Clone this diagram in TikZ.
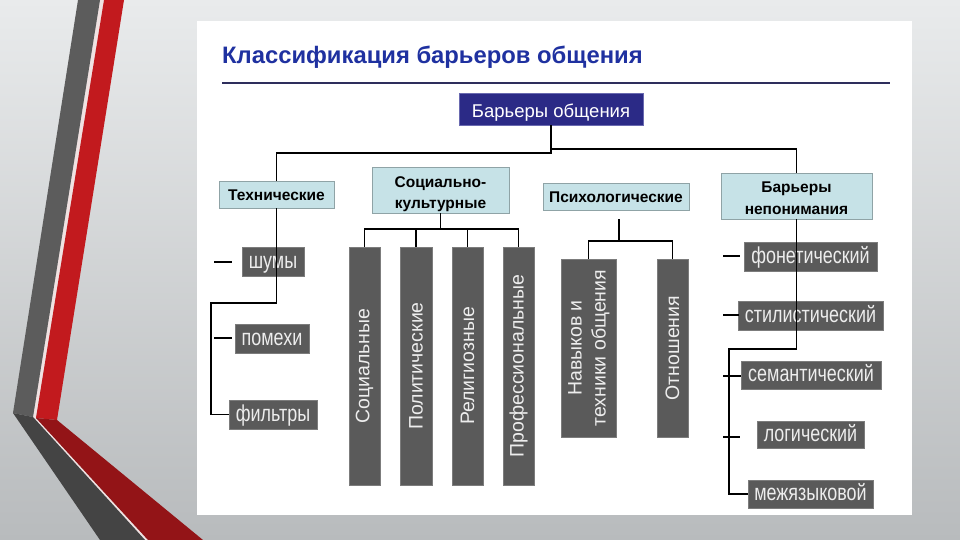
\documentclass[tikz,border=0pt]{standalone}
\usepackage{fontspec}
\setmainfont{Liberation Sans}
\newfontfamily\condfont[FakeStretch=0.78]{Liberation Sans}
\definecolor{bgtop}{HTML}{E9EBEC}
\definecolor{bgbot}{HTML}{B8BBBD}
\definecolor{grayup}{HTML}{5C5C5C}
\definecolor{graylow}{HTML}{444444}
\definecolor{redup}{HTML}{C21A1E}
\definecolor{redlow}{HTML}{931417}
\definecolor{gapcol}{HTML}{F0E2E2}
\definecolor{titlecol}{HTML}{1F31A0}
\definecolor{rulecol}{HTML}{2E2E5C}
\definecolor{rootfill}{HTML}{2B2A86}
\definecolor{rootline}{HTML}{6A6AB0}
\definecolor{catfill}{HTML}{C6E2E7}
\definecolor{catline}{HTML}{8FA3A6}
\definecolor{grayfill}{HTML}{5A5A5A}
\definecolor{grayline}{HTML}{7C7C7C}
\definecolor{graytext}{HTML}{EDEDED}
\begin{document}
\begin{tikzpicture}[x=1pt,y=-1pt]
\tikzset{
  conn/.style={draw=black, line width=1.1pt},
  rootbox/.style={draw=rootline, fill=rootfill, line width=0.8pt, inner sep=0pt, text=white, text height=18pt, text depth=0pt, font=\fontsize{18.5}{21}\selectfont},
  catbox/.style={draw=catline, fill=catfill, line width=0.8pt, inner sep=0pt, text=black, font=\fontsize{15.5}{21}\selectfont\bfseries},
  catone/.style={catbox, text height=11.5pt, text depth=0pt},
  cattwo/.style={catbox, text height=36pt, text depth=0pt},
  graybox/.style={draw=grayline, fill=grayfill, line width=0.8pt, inner sep=0pt, text=graytext, text height=13pt, text depth=0pt, font=\condfont\fontsize{23}{26}\selectfont},
  barbox/.style={draw=grayline, fill=grayfill, line width=0.8pt, inner sep=0pt, text=graytext, font=\fontsize{19.5}{25}\selectfont},
}
\useasboundingbox (0,0) rectangle (960,540);
% background
\shade[top color=bgtop, bottom color=bgbot] (0,0) rectangle (960,540);
% decorative stripes
\fill[gapcol] (100,0) -- (104,0) -- (36,418) -- (148,540) -- (145,540) -- (33,417) -- cycle;
\fill[grayup] (78,0) -- (100,0) -- (33,417) -- (13,413) -- cycle;
\fill[graylow] (13,413) -- (33,417) -- (145,540) -- (100,540) -- cycle;
\fill[redup] (104,0) -- (124,0) -- (57,420) -- (36,418) -- cycle;
\fill[redlow] (36,418) -- (57,420) -- (203,540) -- (148,540) -- cycle;
% white panel
\fill[white] (197,21) rectangle (912,515);
% title
\node[anchor=base west, inner sep=0pt, text=titlecol, font=\fontsize{23.8}{27}\selectfont\bfseries] (title) at (222,64) {Классификация барьеров общения};
\coordinate (ruleL) at (222,83);
\coordinate (ruleR) at (890,83);
\draw[draw=rulecol, line width=1.2pt] (ruleL) -- (ruleR);

% root
\node[rootbox, minimum width=184pt, minimum height=32pt] (root) at (551,109) {Барьеры общения};
% categories
\node[catone, minimum width=115pt, minimum height=27pt] (tech) at (276.5,194.5) {Технические};
\node[cattwo, minimum width=137pt, minimum height=46pt] (soc) at (440.5,190) {\begin{tabular}[b]{@{}c@{}}Социально-\\культурные\end{tabular}};
\node[catone, minimum width=146pt, minimum height=27pt] (psy) at (616,196.5) {Психологические};
\node[cattwo, minimum width=151pt, minimum height=46pt] (bn) at (796.5,196) {\begin{tabular}[b]{@{}c@{}}Барьеры\\непонимания\end{tabular}};

% technical items
\node[graybox, minimum width=62pt, minimum height=29pt] (shum) at (273,261.5) {шумы};
\node[graybox, minimum width=74pt, minimum height=29pt] (pom) at (272,338.5) {помехи};
\node[graybox, minimum width=88pt, minimum height=29pt] (filt) at (273,414.5) {фильтры};

% socio-cultural bars
\node[barbox, minimum width=31pt, minimum height=238pt] (b1) at (364.5,366) {\rotatebox{90}{Социальные}};
\node[barbox, minimum width=32pt, minimum height=238pt] (b2) at (416,366) {\rotatebox{90}{Политические}};
\node[barbox, minimum width=31pt, minimum height=238pt] (b3) at (467.5,366) {\rotatebox{90}{Религиозные}};
\node[barbox, minimum width=31pt, minimum height=238pt] (b4) at (518.5,366) {\rotatebox{90}{Профессиональные}};
% psychological bars
\node[barbox, minimum width=55pt, minimum height=178pt] (b5) at (588.5,348) {\rotatebox{90}{\begin{tabular}{@{}c@{}}Навыков и\\[-1pt]техники общения\end{tabular}}};
\node[barbox, minimum width=31pt, minimum height=178pt] (b6) at (672.5,348) {\rotatebox{90}{Отношения}};

% misunderstanding items
\node[graybox, minimum width=133pt, minimum height=29pt] (fon) at (810.5,256.5) {фонетический};
\node[graybox, minimum width=145pt, minimum height=29pt] (sti) at (810.5,315.5) {стилистический};
\node[graybox, minimum width=140pt, minimum height=28pt] (sem) at (811,375) {семантический};
\node[graybox, minimum width=107pt, minimum height=27pt] (log) at (810.5,434.5) {логический};
\node[graybox, minimum width=125pt, minimum height=28pt] (mez) at (810.5,494) {межязыковой};

% top connectors
\coordinate (rj) at (551,153);
\coordinate (hl) at (276.5,153);
\coordinate (rr) at (551,149);
\coordinate (hr) at (796.5,149);
\draw[conn] (root.south) -- (rj) -- (hl) -- (tech.north);
\draw[conn] (rr) -- (hr) -- (bn.north);

% technical connectors
\coordinate (t1) at (276.5,303);
\coordinate (t2) at (211,303);
\coordinate (t3) at (211,414.5);
\draw[conn] (tech.south) -- (t1) -- (t2) -- (t3) -- (filt.west);
\coordinate (d1a) at (214,262);
\coordinate (d1b) at (232,262);
\coordinate (d2a) at (214,338);
\coordinate (d2b) at (232,338);
\draw[conn] (d1a) -- (d1b);
\draw[conn] (d2a) -- (d2b);

% socio-cultural connectors
\coordinate (sj) at (440.5,229);
\draw[conn] (soc.south) -- (sj);
\draw[conn] (b1.north) |- (sj) -| (b4.north);
\draw[conn] (b2.north) -- (b2.north |- sj);
\draw[conn] (b3.north) -- (b3.north |- sj);

% psychological connectors
\coordinate (ps) at (619,219);
\coordinate (pj) at (619,241);
\draw[conn] (ps) -- (pj);
\draw[conn] (b5.north) |- (pj) -| (b6.north);

% misunderstanding connectors
\coordinate (r1) at (796.5,349);
\coordinate (r2) at (729,349);
\coordinate (r3) at (729,494);
\draw[conn] (bn.south) -- (r1) -- (r2) -- (r3) -- (mez.west);
\coordinate (e1a) at (723,256);
\coordinate (e1b) at (740,256);
\coordinate (e2a) at (723,315);
\coordinate (e2b) at (739,315);
\coordinate (e3a) at (723,376);
\coordinate (e3b) at (741,376);
\coordinate (e4a) at (723,437);
\coordinate (e4b) at (740,437);
\draw[conn] (e1a) -- (e1b);
\draw[conn] (e2a) -- (e2b);
\draw[conn] (e3a) -- (e3b);
\draw[conn] (e4a) -- (e4b);
\end{tikzpicture}
\end{document}
